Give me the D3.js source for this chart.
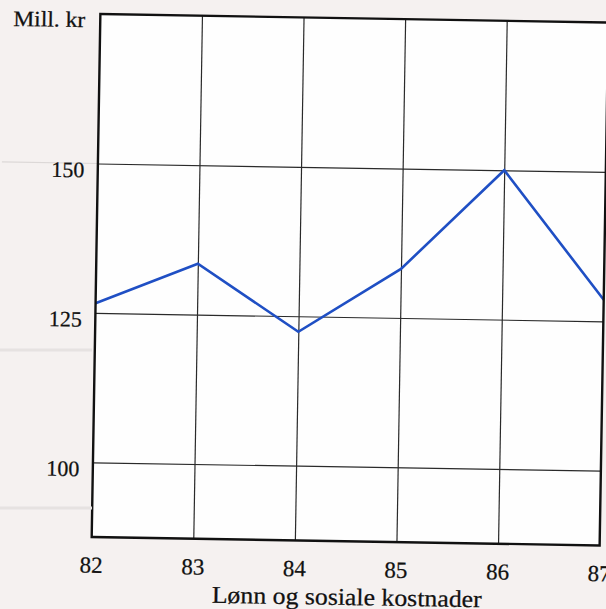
<!DOCTYPE html>
<html>
<head>
<meta charset="utf-8">
<script src="https://cdn.jsdelivr.net/npm/d3@7"></script>
<style>
  html, body { margin: 0; padding: 0; background: #f5f1f0; }
  svg { display: block; }
  text { font-family: "Liberation Serif", "Times New Roman", serif; fill: #111; stroke: #111; stroke-width: 0.25px; }
</style>
</head>
<body>
<svg id="chart" width="606" height="609"></svg>
<script>
const years = [82, 83, 84, 85, 86, 87];
const values = [126.6, 133.5, 122.4, 133.2, 150.0, 128.6];
const yTicks = [100, 125, 150];
const xTickLabels = ["82", "83", "84", "85", "86", "87"];
const yUnitLabel = "Mill. kr";
const xTitle = "Lønn og sosiale kostnader";

(function () {
const svg = d3.select("#chart");
const W = 606, H = 609;

svg.append("rect").attr("x", 0).attr("y", 0).attr("width", W).attr("height", H).attr("fill", "#f5f1f0");

const g = svg.append("g").attr("transform", "rotate(0.95, 350, 279.75)");

const pL = 96, pR = 604, pT = 18.25, pB = 541.25;

const x = d3.scaleLinear().domain([82, 87]).range([pL, pR]);
const y = d3.scaleLinear().domain([87.5, 175]).range([pB, pT]);

// margin artifacts (scanned paper)
[350, 508].forEach(v => {
  svg.append("line").attr("x1", 0).attr("x2", 92).attr("y1", v).attr("y2", v)
    .attr("stroke", "#e6e2e1").attr("stroke-width", 3);
});
g.append("line").attr("x1", 0).attr("x2", pL).attr("y1", y(150)).attr("y2", y(150))
  .attr("stroke", "#dcd8d7").attr("stroke-width", 1.2);

// plot background
g.append("rect").attr("x", pL).attr("y", pT).attr("width", pR - pL).attr("height", pB - pT)
  .attr("fill", "#fefefe");

// grid
const xAxisGrid = d3.axisBottom(x).tickValues(years.slice(1, -1)).tickSize(-(pB - pT)).tickFormat("");
g.append("g").attr("transform", `translate(0,${pB})`).call(xAxisGrid)
  .call(s => s.select(".domain").remove())
  .call(s => s.selectAll("line").attr("stroke", "#2a2a2a").attr("stroke-width", 1.2));

const yAxisGrid = d3.axisLeft(y).tickValues(yTicks).tickSize(-(pR - pL)).tickFormat("");
g.append("g").attr("transform", `translate(${pL},0)`).call(yAxisGrid)
  .call(s => s.select(".domain").remove())
  .call(s => s.selectAll("line").attr("stroke", "#2a2a2a").attr("stroke-width", 1.2));

// line
const line = d3.line().x((d, i) => x(years[i])).y(d => y(d));
g.append("path").datum(values).attr("d", line)
  .attr("fill", "none").attr("stroke", "#1f4fc4").attr("stroke-width", 2.6)
  .attr("stroke-linejoin", "miter");

// frame
g.append("rect").attr("x", pL).attr("y", pT).attr("width", pR - pL).attr("height", pB - pT)
  .attr("fill", "none").attr("stroke", "#111").attr("stroke-width", 2.4);

// y tick labels
g.selectAll(".ylab").data(yTicks).enter().append("text")
  .attr("x", pL - 13.5).attr("y", d => y(d) + 14)
  .attr("text-anchor", "end").attr("font-size", 22).text(d => d);

// x tick labels
g.selectAll(".xlab").data(years).enter().append("text")
  .attr("x", d => x(d)).attr("y", 577)
  .attr("text-anchor", "middle").attr("font-size", 23).text((d, i) => xTickLabels[i]);

// unit label
g.append("text").attr("x", 81).attr("y", 31.5).attr("text-anchor", "end")
  .attr("font-size", 22).attr("textLength", 72).attr("lengthAdjust", "spacingAndGlyphs").text(yUnitLabel);

// x title
g.append("text").attr("x", 352).attr("y", 605).attr("text-anchor", "middle")
  .attr("font-size", 24).attr("textLength", 270).attr("lengthAdjust", "spacingAndGlyphs").text(xTitle);
})();
</script>
</body>
</html>
